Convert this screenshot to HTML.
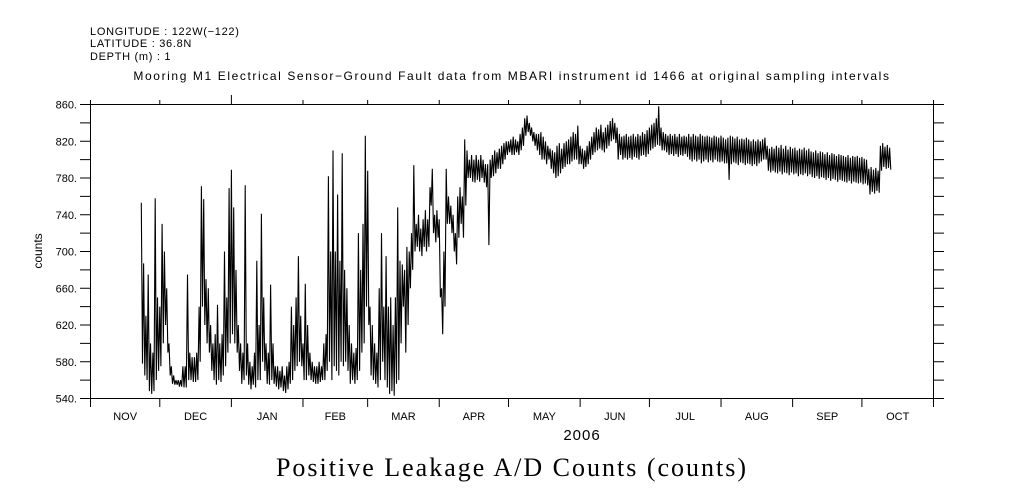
<!DOCTYPE html>
<html><head><meta charset="utf-8"><style>
html,body{margin:0;padding:0;background:#fff;}
svg{display:block;}
text{font-family:"Liberation Sans",sans-serif;fill:#000;}
</style></head><body>
<svg id="chart" width="1009" height="504" viewBox="0 0 1009 504" xmlns="http://www.w3.org/2000/svg">
<g font-size="11" letter-spacing="0.7">
<text x="90" y="35">LONGITUDE : 122W(−122)</text>
<text x="90" y="47">LATITUDE : 36.8N</text>
<text x="90" y="60">DEPTH (m) : 1</text>
</g>
<text x="512" y="80" text-anchor="middle" font-size="12" letter-spacing="1.6">Mooring M1 Electrical Sensor−Ground Fault data from MBARI instrument id 1466 at original sampling intervals</text>
<rect x="90.5" y="104.5" width="843" height="294" fill="none" stroke="#000" stroke-width="1"/>
<g id="axes"></g>
<g id="series"></g>
<text transform="translate(42,251) rotate(-90)" text-anchor="middle" font-size="12">counts</text>
<text x="582" y="440" text-anchor="middle" font-size="15" letter-spacing="1">2006</text>
<text x="512" y="476" text-anchor="middle" font-size="26" letter-spacing="2" style="font-family:'Liberation Serif',serif">Positive Leakage A/D Counts (counts)</text>
</svg>
<script>
const monthLabels=["NOV","DEC","JAN","FEB","MAR","APR","MAY","JUN","JUL","AUG","SEP","OCT"];
const monthStarts=[0,30,61,92,120,151,181,212,242,273,304,334,365];
const yTicks=[540,580,620,660,700,740,780,820,860];
const firstDay=22;
const lows=[
578,565,560,548,545,548,560,570,575,600,
620,590,565,556,555,555,553,553,552,552,
560,560,558,558,560,580,640,620,600,590,
570,560,555,560,558,565,575,590,600,610,
600,590,570,556,560,565,555,550,555,552,
560,560,580,570,556,555,560,556,553,550,
552,548,546,550,556,560,570,575,580,575,
560,560,565,560,558,556,556,558,560,560,
570,580,560,575,570,565,580,575,580,570,
556,560,556,560,570,590,600,640,620,565,
560,556,552,560,580,560,552,545,548,543,
556,560,600,640,590,620,660,680,700,705,
700,695,705,700,705,750,720,710,715,650,
610,640,730,730,720,700,686,715,730,715,
750,780,780,776,775,778,776,780,775,770,
707,780,782,785,790,790,795,800,805,808,
805,805,808,805,810,815,826,830,826,820,
815,810,805,800,800,795,800,790,785,780,
782,785,790,792,795,795,798,800,800,795,
795,790,792,795,800,805,808,810,812,810,
808,812,815,820,822,818,800,805,800,802,
800,802,800,803,802,800,804,805,803,806,
810,812,814,816,815,810,810,808,805,806,
804,806,803,805,804,806,803,800,798,800,
798,800,796,798,800,797,799,797,800,798,
797,798,796,796,778,795,797,796,794,797,
796,794,796,795,793,795,793,796,798,800,
800,788,786,788,786,785,787,784,786,785,
783,786,784,785,782,784,783,785,782,784,
781,780,782,779,781,780,778,780,777,779,
778,776,778,777,776,775,777,774,776,775,
774,775,773,774,772,762,765,763,766,764,
788,792,790,791,789];
const highs=[
753,687,630,675,600,590,758,650,640,730,
700,660,600,575,565,560,560,560,575,575,
675,590,585,585,590,640,771,757,670,660,
620,600,610,642,600,610,700,650,769,789,
748,680,620,600,590,772,600,580,575,590,
690,620,741,650,600,590,664,600,575,575,
570,575,565,575,580,640,620,650,695,630,
600,665,620,590,580,575,575,580,575,600,
610,782,700,810,700,762,690,807,680,660,
620,600,590,595,720,680,730,826,788,640,
620,600,590,660,720,640,695,640,650,620,
650,748,690,686,680,705,700,720,794,730,
740,725,735,745,735,770,790,740,745,735,
660,700,790,760,750,740,720,760,770,760,
822,810,800,805,800,805,800,805,800,795,
795,800,805,810,808,812,815,818,820,820,
822,825,822,820,828,835,845,848,840,835,
830,828,828,830,825,820,815,812,810,808,
815,818,812,818,820,822,825,830,828,837,
815,812,810,815,820,825,830,835,833,838,
830,835,838,842,845,840,835,828,825,826,
828,825,826,828,825,828,826,830,828,832,
835,838,840,845,858,835,830,828,826,828,
826,828,825,828,825,826,825,828,825,828,
826,825,828,826,825,826,825,824,826,825,
824,826,824,822,824,826,825,823,825,822,
823,822,824,822,820,822,820,822,820,822,
824,815,812,814,812,815,813,816,812,815,
811,814,812,813,810,812,811,813,810,812,
809,808,810,807,809,808,806,808,805,807,
806,804,806,805,804,803,805,802,804,803,
804,802,803,801,800,790,792,789,791,788,
815,818,814,816,813];

const X0=90.5,X1=933.5,Y0=104.5,Y1=398.5,DMAX=365,VMIN=540,VMAX=860;
function xs(d){return X0+(X1-X0)*d/DMAX;}
function ys(v){return Y1-(Y1-Y0)*(v-VMIN)/(VMAX-VMIN);}
const NS="http://www.w3.org/2000/svg";
const axes=document.getElementById('axes');
function line(x1,y1,x2,y2,parent){const l=document.createElementNS(NS,'line');l.setAttribute('x1',x1);l.setAttribute('y1',y1);l.setAttribute('x2',x2);l.setAttribute('y2',y2);l.setAttribute('stroke','#000');l.setAttribute('stroke-width','1');parent.appendChild(l);return l;}
for(let v=VMIN;v<=VMAX;v+=20){
  const t1=line(80,ys(v),X0,ys(v),axes);
  
  
  const t2=line(X1,ys(v),944,ys(v),axes);
  
  
}
yTicks.forEach(v=>{
  const t=document.createElementNS(NS,'text');
  t.setAttribute('x',77);t.setAttribute('y',ys(v)+4);t.setAttribute('text-anchor','end');t.setAttribute('font-size','11');
  t.textContent=v+'.';
  
  
  axes.appendChild(t);
});
monthStarts.forEach((d)=>{
  const x=xs(d);
  const top=(d===61)?95:100;
  const a=line(x,top,x,Y0,axes);
  
  
  const b=line(x,Y1,x,407,axes);
  
  
});
monthLabels.forEach((m,i)=>{
  const t=document.createElementNS(NS,'text');
  t.setAttribute('x',(xs(monthStarts[i])+xs(monthStarts[i+1]))/2);t.setAttribute('y',420);
  t.setAttribute('text-anchor','middle');t.setAttribute('font-size','11');
  t.textContent=m;
  
  
  axes.appendChild(t);
});
let pts=[];
const n=Math.min(lows.length,highs.length);
for(let i=0;i<n;i++){
  const d=firstDay+i;
  pts.push(xs(d).toFixed(1)+','+ys(highs[i]).toFixed(1));
  pts.push(xs(d+0.5).toFixed(1)+','+ys(lows[i]).toFixed(1));
}
const pl=document.createElementNS(NS,'polyline');
pl.setAttribute('points',pts.join(' '));
pl.setAttribute('fill','none');pl.setAttribute('stroke','#000');pl.setAttribute('stroke-width','1.1');


document.getElementById('series').appendChild(pl);
</script>
</body></html>
